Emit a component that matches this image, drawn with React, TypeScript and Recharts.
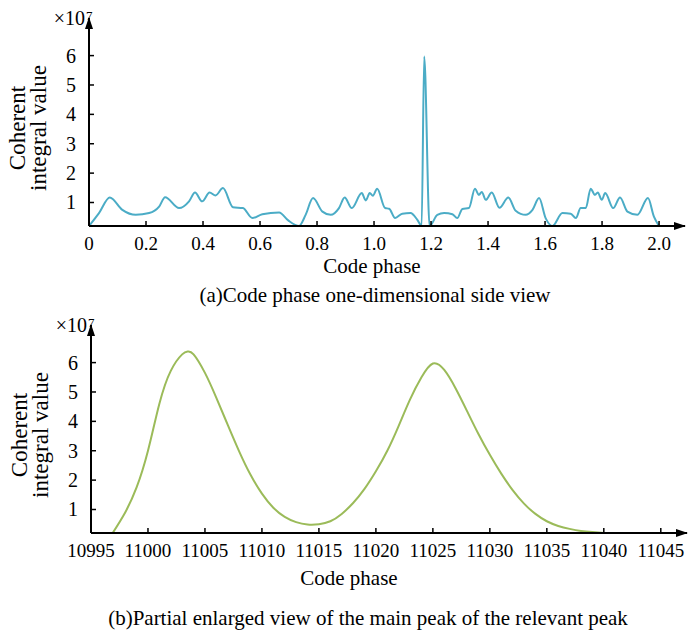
import { LineChart, Line, XAxis, YAxis, Label } from "recharts";

// (a) full code phase sweep, value in units of 1e7
const sidePhase = [
  0, 0.035, 0.073, 0.117, 0.164, 0.211, 0.246, 0.267, 0.316, 0.351, 0.372, 0.397, 0.423, 0.444, 0.47,
  0.505, 0.54, 0.573, 0.608, 0.667, 0.699, 0.737, 0.76, 0.786, 0.819, 0.848, 0.877, 0.897, 0.922, 0.957,
  0.971, 0.985, 0.996, 1.011, 1.039, 1.053, 1.074, 1.099, 1.128, 1.152, 1.167, 1.176, 1.195, 1.222, 1.246,
  1.275, 1.292, 1.31, 1.333, 1.354, 1.368, 1.378, 1.392, 1.413, 1.44, 1.471, 1.497, 1.532, 1.556, 1.579,
  1.602, 1.626, 1.661, 1.69, 1.708, 1.725, 1.743, 1.76, 1.775, 1.785, 1.799, 1.811, 1.839, 1.863, 1.889,
  1.924, 1.961, 1.982, 2.0,
];
const sideValue = [
  0.2, 0.64, 1.17, 0.75, 0.58, 0.64, 0.86, 1.18, 0.81, 1.04, 1.34, 1.04, 1.34, 1.24, 1.49,
  0.84, 0.81, 0.47, 0.6, 0.66, 0.39, 0.2, 0.58, 1.15, 0.69, 0.58, 0.81, 1.17, 0.81, 1.32,
  1.07, 1.32, 1.23, 1.47, 0.81, 0.79, 0.47, 0.62, 0.64, 0.41, 0.2, 5.97, 0.2, 0.58, 0.64,
  0.6, 0.47, 0.78, 0.81, 1.47, 1.26, 1.36, 1.09, 1.34, 0.82, 1.17, 0.72, 0.58, 0.75, 1.15,
  0.47, 0.2, 0.64, 0.62, 0.47, 0.81, 0.81, 1.47, 1.26, 1.34, 1.09, 1.32, 0.81, 1.17, 0.69,
  0.58, 1.15, 0.52, 0.2,
];

// (b) zoom on the main peak
const peakPhase = [
  10996.9, 10998, 10999, 11000, 11001, 11002, 11003, 11003.5, 11004, 11005, 11006, 11007, 11008, 11009,
  11010, 11011, 11012, 11013, 11014, 11015, 11016, 11017, 11018, 11019, 11020, 11021, 11022, 11023,
  11024, 11025, 11026, 11027, 11028, 11029, 11030, 11031, 11032, 11033, 11034, 11035, 11036, 11037,
  11038, 11039, 11040,
];
const peakValue = [
  0.2, 0.9, 1.75, 3.0, 4.6, 5.72, 6.28, 6.38, 6.28, 5.65, 4.8, 3.88, 2.98, 2.18,
  1.54, 1.06, 0.75, 0.57, 0.49, 0.5, 0.6, 0.85, 1.22, 1.7, 2.3, 3.0, 3.85, 4.75,
  5.5, 5.97, 5.75, 5.12, 4.35, 3.57, 2.86, 2.22, 1.66, 1.2, 0.85, 0.6, 0.44, 0.34,
  0.27, 0.23, 0.2,
];

const valueTicks = [1, 2, 3, 4, 5, 6];
const sideTicks = [0, 0.2, 0.4, 0.6, 0.8, 1.0, 1.2, 1.4, 1.6, 1.8, 2.0];
const peakTicks = [10995, 11000, 11005, 11010, 11015, 11020, 11025, 11030, 11035, 11040, 11045];

const sideData = sidePhase.map((p, i) => ({ phase: p, value: sideValue[i] }));
const peakData = peakPhase.map((p, i) => ({ phase: p, value: peakValue[i] }));

const FONT = '"Liberation Serif", "Times New Roman", serif';
const axisStyle = { stroke: "#000", strokeWidth: 2 };

function XTick(props: any) {
  const { x, y, payload, fmt } = props;
  return (
    <g>
      <line x1={x} y1={y} x2={x} y2={y - 5} stroke="#000" strokeWidth={1.5} />
      <text x={x} y={y + 24} textAnchor="middle" fontFamily={FONT} fontSize={19} fill="#000">
        {fmt(payload.value)}
      </text>
    </g>
  );
}

function YTick(props: any) {
  const { x, y, payload } = props;
  return (
    <g>
      <line x1={x} y1={y} x2={x + 5} y2={y} stroke="#000" strokeWidth={1.5} />
      <text x={x - 13} y={y + 7} textAnchor="end" fontFamily={FONT} fontSize={20} fill="#000">
        {payload.value}
      </text>
    </g>
  );
}

function YTitle({ viewBox }: any) {
  const left = viewBox.x + viewBox.width;
  const top = viewBox.y;
  const cy = top + viewBox.height / 2 + 6;
  return (
    <g fontFamily={FONT} fill="#000">
      <text transform={`translate(${left - 64},${cy}) rotate(-90)`} textAnchor="middle" fontSize={23}>
        Coherent
      </text>
      <text transform={`translate(${left - 43},${cy}) rotate(-90)`} textAnchor="middle" fontSize={23}>
        integral value
      </text>
      <text x={left - 4} y={top + 7} textAnchor="end" fontSize={20}>
        ×10
      </text>
      <text x={left - 3} y={top + 2} fontSize={13}>
        7
      </text>
    </g>
  );
}

function XTitle({ viewBox, dx, dy }: any) {
  return (
    <text x={viewBox.x + dx} y={viewBox.y + dy} textAnchor="middle" fontFamily={FONT} fontSize={21} fill="#000">
      Code phase
    </text>
  );
}

const caption = (top: number, left: number, text: string) => (
  <div
    style={{
      position: "absolute",
      top,
      left,
      width: 0,
      display: "flex",
      justifyContent: "center",
      whiteSpace: "nowrap",
      fontFamily: FONT,
      fontSize: 21,
      lineHeight: "21px",
      color: "#000",
    }}
  >
    {text}
  </div>
);

export default function App() {
  return (
    <div style={{ position: "absolute", left: 0, top: 0, width: 688, height: 631, background: "#fff" }}>
      <svg width={0} height={0} style={{ position: "absolute" }}>
        <defs>
          <marker
            id="axisArrow"
            viewBox="0 0 12 8"
            refX={11}
            refY={4}
            markerWidth={12}
            markerHeight={8}
            markerUnits="userSpaceOnUse"
            orient="auto-start-reverse"
          >
            <path d="M0,0 L12,4 L0,8 z" fill="#000" />
          </marker>
        </defs>
      </svg>

      <div style={{ position: "absolute", left: 0, top: 0 }}>
        <LineChart width={688} height={300} data={sideData} margin={{ top: 18, right: 3, bottom: 44, left: 49 }}>
          <XAxis
            type="number"
            dataKey="phase"
            domain={[0, 2.091]}
            ticks={sideTicks}
            interval={0}
            allowDataOverflow
            height={30}
            tickSize={0}
            tickMargin={0}
            tickLine={false}
            axisLine={{ ...axisStyle, markerEnd: "url(#axisArrow)" }}
            tick={(p: any) => <XTick {...p} fmt={(v: number) => (v === 0 ? "0" : v.toFixed(1))} />}
          >
            <Label content={(p: any) => <XTitle {...p} dx={283} dy={47} />} />
          </XAxis>
          <YAxis
            type="number"
            domain={[0.2, 7.28]}
            ticks={valueTicks}
            interval={0}
            allowDataOverflow
            width={40}
            tickSize={0}
            tickMargin={0}
            tickLine={false}
            axisLine={{ ...axisStyle, markerStart: "url(#axisArrow)" }}
            tick={(p: any) => <YTick {...p} />}
          >
            <Label content={(p: any) => <YTitle {...p} />} />
          </YAxis>
          <Line
            type="monotone"
            dataKey="value"
            stroke="#4BACC6"
            strokeWidth={2}
            dot={false}
            isAnimationActive={false}
          />
        </LineChart>
      </div>
      {caption(285, 375, "(a)Code phase one-dimensional side view")}

      <div style={{ position: "absolute", left: 0, top: 310 }}>
        <LineChart width={688} height={321} data={peakData} margin={{ top: 15, right: 1, bottom: 68, left: 51 }}>
          <XAxis
            type="number"
            dataKey="phase"
            domain={[10995, 11047.3]}
            ticks={peakTicks}
            interval={0}
            allowDataOverflow
            height={30}
            tickSize={0}
            tickMargin={0}
            tickLine={false}
            axisLine={{ ...axisStyle, markerEnd: "url(#axisArrow)" }}
            tick={(p: any) => <XTick {...p} fmt={(v: number) => String(v)} />}
          >
            <Label content={(p: any) => <XTitle {...p} dx={258} dy={52} />} />
          </XAxis>
          <YAxis
            type="number"
            domain={[0.2, 7.28]}
            ticks={valueTicks}
            interval={0}
            allowDataOverflow
            width={40}
            tickSize={0}
            tickMargin={0}
            tickLine={false}
            axisLine={{ ...axisStyle, markerStart: "url(#axisArrow)" }}
            tick={(p: any) => <YTick {...p} />}
          >
            <Label content={(p: any) => <YTitle {...p} />} />
          </YAxis>
          <Line
            type="natural"
            dataKey="value"
            stroke="#9BBB59"
            strokeWidth={2}
            dot={false}
            isAnimationActive={false}
          />
        </LineChart>
      </div>
      {caption(608, 368, "(b)Partial enlarged view of the main peak of the relevant peak")}
    </div>
  );
}
